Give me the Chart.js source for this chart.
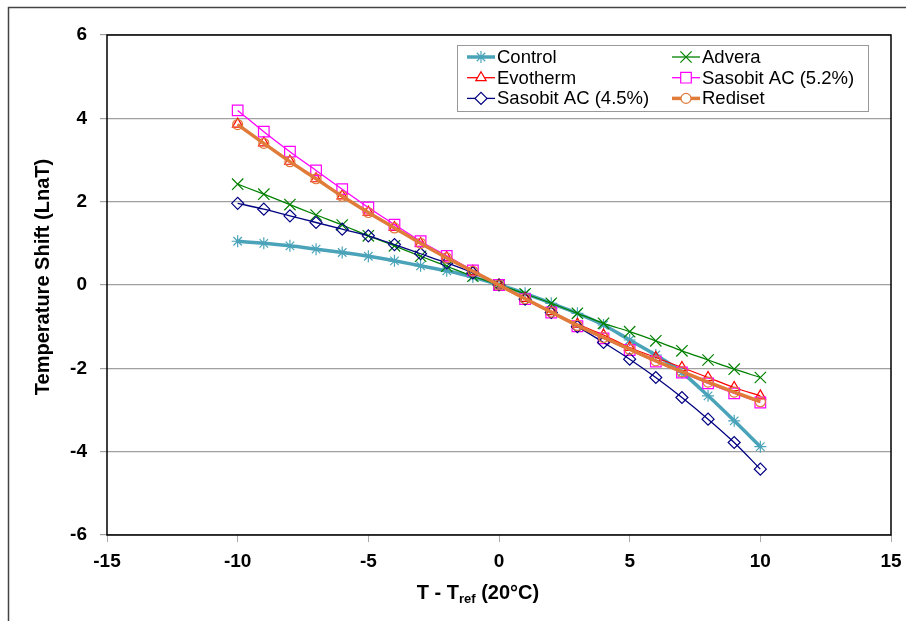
<!DOCTYPE html>
<html>
<head>
<meta charset="utf-8">
<script src="https://cdn.jsdelivr.net/npm/chart.js@4.4.1/dist/chart.umd.min.js"></script>
<style>
  html, body { margin: 0; padding: 0; background: #fff; }
  #wrap { width: 906px; height: 621px; position: relative; }
</style>
</head>
<body>
<div id="wrap"><canvas id="myChart" width="906" height="621"></canvas></div>
<script>
const temps = [-10, -9, -8, -7, -6, -5, -4, -3, -2, -1, 0, 1, 2, 3, 4, 5, 6, 7, 8, 9, 10];

const control   = [1.05, 1.0, 0.94, 0.86, 0.78, 0.69, 0.58, 0.46, 0.34, 0.19, 0, -0.2, -0.44, -0.68, -0.96, -1.32, -1.68, -2.1, -2.66, -3.26, -3.88];
const advera    = [2.42, 2.18, 1.93, 1.68, 1.44, 1.18, 0.94, 0.69, 0.45, 0.21, 0, -0.21, -0.44, -0.68, -0.92, -1.12, -1.34, -1.58, -1.8, -2.02, -2.22];
const evotherm  = [3.86, 3.41, 2.97, 2.55, 2.14, 1.75, 1.38, 1.0, 0.66, 0.33, 0, -0.32, -0.64, -0.94, -1.2, -1.5, -1.74, -1.98, -2.22, -2.46, -2.66];
const sasobit52 = [4.19, 3.68, 3.2, 2.75, 2.3, 1.86, 1.45, 1.05, 0.7, 0.35, 0, -0.34, -0.66, -0.99, -1.28, -1.56, -1.84, -2.1, -2.36, -2.6, -2.82];
const sasobit45 = [1.96, 1.82, 1.66, 1.5, 1.34, 1.18, 0.97, 0.75, 0.53, 0.29, 0, -0.34, -0.66, -1.0, -1.38, -1.78, -2.22, -2.7, -3.22, -3.78, -4.42];
const rediset   = [3.85, 3.4, 2.96, 2.55, 2.13, 1.74, 1.37, 1.0, 0.65, 0.33, 0, -0.33, -0.65, -0.97, -1.26, -1.54, -1.82, -2.08, -2.33, -2.57, -2.8];

const xTicks = [-15, -10, -5, 0, 5, 10, 15];
const yTicks = [-6, -4, -2, 0, 2, 4, 6];

function pts(vals) {
    return temps.map(function (t, i) { return { x: t, y: vals[i] }; });
}

function series(label, vals, color, style, radius, width, order) {
    return {
        label: label,
        data: pts(vals),
        showLine: true,
        borderColor: color,
        backgroundColor: 'rgba(0,0,0,0)',
        pointBorderColor: color,
        pointBackgroundColor: 'rgba(0,0,0,0)',
        pointStyle: style,
        pointRadius: radius,
        pointBorderWidth: 1.2,
        borderWidth: width,
        cubicInterpolationMode: 'monotone',
        order: order
    };
}

const datasets = [
    series('Control', control, '#4aa3b9', 'star', 6, 3.5, 6),
    series('Advera', advera, '#008000', 'crossRot', 8, 1.3, 5),
    series('Evotherm', evotherm, '#ff0000', 'triangle', 6, 1.3, 4),
    series('Sasobit AC (5.2%)', sasobit52, '#ff00ff', 'rect', 7.5, 1.3, 3),
    series('Sasobit AC (4.5%)', sasobit45, '#000080', 'rectRot', 6, 1.3, 2),
    series('Rediset', rediset, '#e07b39', 'circle', 5, 3.5, 1)
];

const FONT = '"Liberation Sans", Arial, sans-serif';

const framePlugin = {
    id: 'frame',
    afterDraw: function (chart) {
        const c = chart.ctx;
        const a = chart.chartArea;
        c.save();
        // outer border
        c.strokeStyle = '#444';
        c.lineWidth = 1.5;
        c.beginPath();
        c.moveTo(8.5, 640);
        c.lineTo(8.5, 7.5);
        c.lineTo(910, 7.5);
        c.stroke();
        // plot border
        c.strokeStyle = '#000';
        c.lineWidth = 1.5;
        c.strokeRect(a.left, a.top, a.right - a.left, a.bottom - a.top);

        // y title
        c.fillStyle = '#000';
        c.font = 'bold 20px ' + FONT;
        c.textAlign = 'center';
        c.textBaseline = 'middle';
        c.save();
        c.translate(43, 277);
        c.rotate(-Math.PI / 2);
        c.fillText('Temperature Shift (LnaT)', 0, 0);
        c.restore();

        // x title with subscript
        c.textAlign = 'left';
        c.textBaseline = 'alphabetic';
        const big = 'bold 20px ' + FONT;
        const small = 'bold 13px ' + FONT;
        const parts = [['T - T', big, 0], ['ref', small, 4], [' (20°C)', big, 0]];
        let w = 0;
        parts.forEach(function (p) { c.font = p[1]; w += c.measureText(p[0]).width; });
        let x = 478 - w / 2;
        parts.forEach(function (p) {
            c.font = p[1];
            c.fillText(p[0], x, 599 + p[2]);
            x += c.measureText(p[0]).width;
        });

        // legend
        const lx = 457, ly = 45, lw = 411, lh = 66;
        c.fillStyle = '#fff';
        c.fillRect(lx, ly, lw, lh);
        c.strokeStyle = '#999';
        c.lineWidth = 1;
        c.strokeRect(lx + 0.5, ly + 0.5, lw, lh);
        c.font = '18.5px ' + FONT;
        c.textBaseline = 'middle';
        chart.data.datasets.forEach(function (ds, k) {
            const col = k % 2, row = Math.floor(k / 2);
            const sx = col === 0 ? 467 : 672;
            const sy = 57 + row * 20.7;
            c.strokeStyle = ds.borderColor;
            c.lineWidth = ds.borderWidth;
            c.beginPath();
            c.moveTo(sx, sy);
            c.lineTo(sx + 28, sy);
            c.stroke();
            c.lineWidth = 1.2;
            c.fillStyle = '#fff';
            Chart.helpers.drawPoint(c, {
                pointStyle: ds.pointStyle,
                radius: ds.pointRadius,
                borderWidth: 1.2
            }, sx + 14, sy);
            c.fillStyle = '#000';
            c.fillText(ds.label, sx + 30, sy + 1);
        });
        c.restore();
    }
};

const chart = new Chart(document.getElementById('myChart'), {
    type: 'scatter',
    data: { datasets: datasets },
    options: {
        responsive: false,
        animation: false,
        devicePixelRatio: 1,
        layout: { autoPadding: false, padding: { left: 0, right: 15, top: 35, bottom: 0 } },
        plugins: {
            legend: { display: false },
            tooltip: { enabled: false }
        },
        scales: {
            x: {
                type: 'linear',
                min: -15,
                max: 15,
                afterBuildTicks: function (s) { s.ticks = xTicks.map(function (v) { return { value: v }; }); },
                afterFit: function (s) { s.height = 86; s.paddingLeft = 0; s.paddingRight = 0; },
                grid: { drawOnChartArea: false, drawTicks: true, tickLength: 7, color: '#aaa' },
                border: { display: false },
                ticks: {
                    color: '#000',
                    padding: 8,
                    maxRotation: 0,
                    font: { family: FONT, size: 19, weight: 'bold' }
                }
            },
            y: {
                type: 'linear',
                min: -6,
                max: 6,
                afterBuildTicks: function (s) { s.ticks = yTicks.map(function (v) { return { value: v }; }); },
                afterFit: function (s) { s.width = 107; s.paddingTop = 0; s.paddingBottom = 0; },
                grid: { drawOnChartArea: true, drawTicks: true, tickLength: 7, color: '#a0a0a0', lineWidth: 1.2 },
                border: { display: false },
                ticks: {
                    color: '#000',
                    padding: 13,
                    font: { family: FONT, size: 19, weight: 'bold' }
                }
            }
        }
    },
    plugins: [framePlugin]
});
</script>
</body>
</html>
